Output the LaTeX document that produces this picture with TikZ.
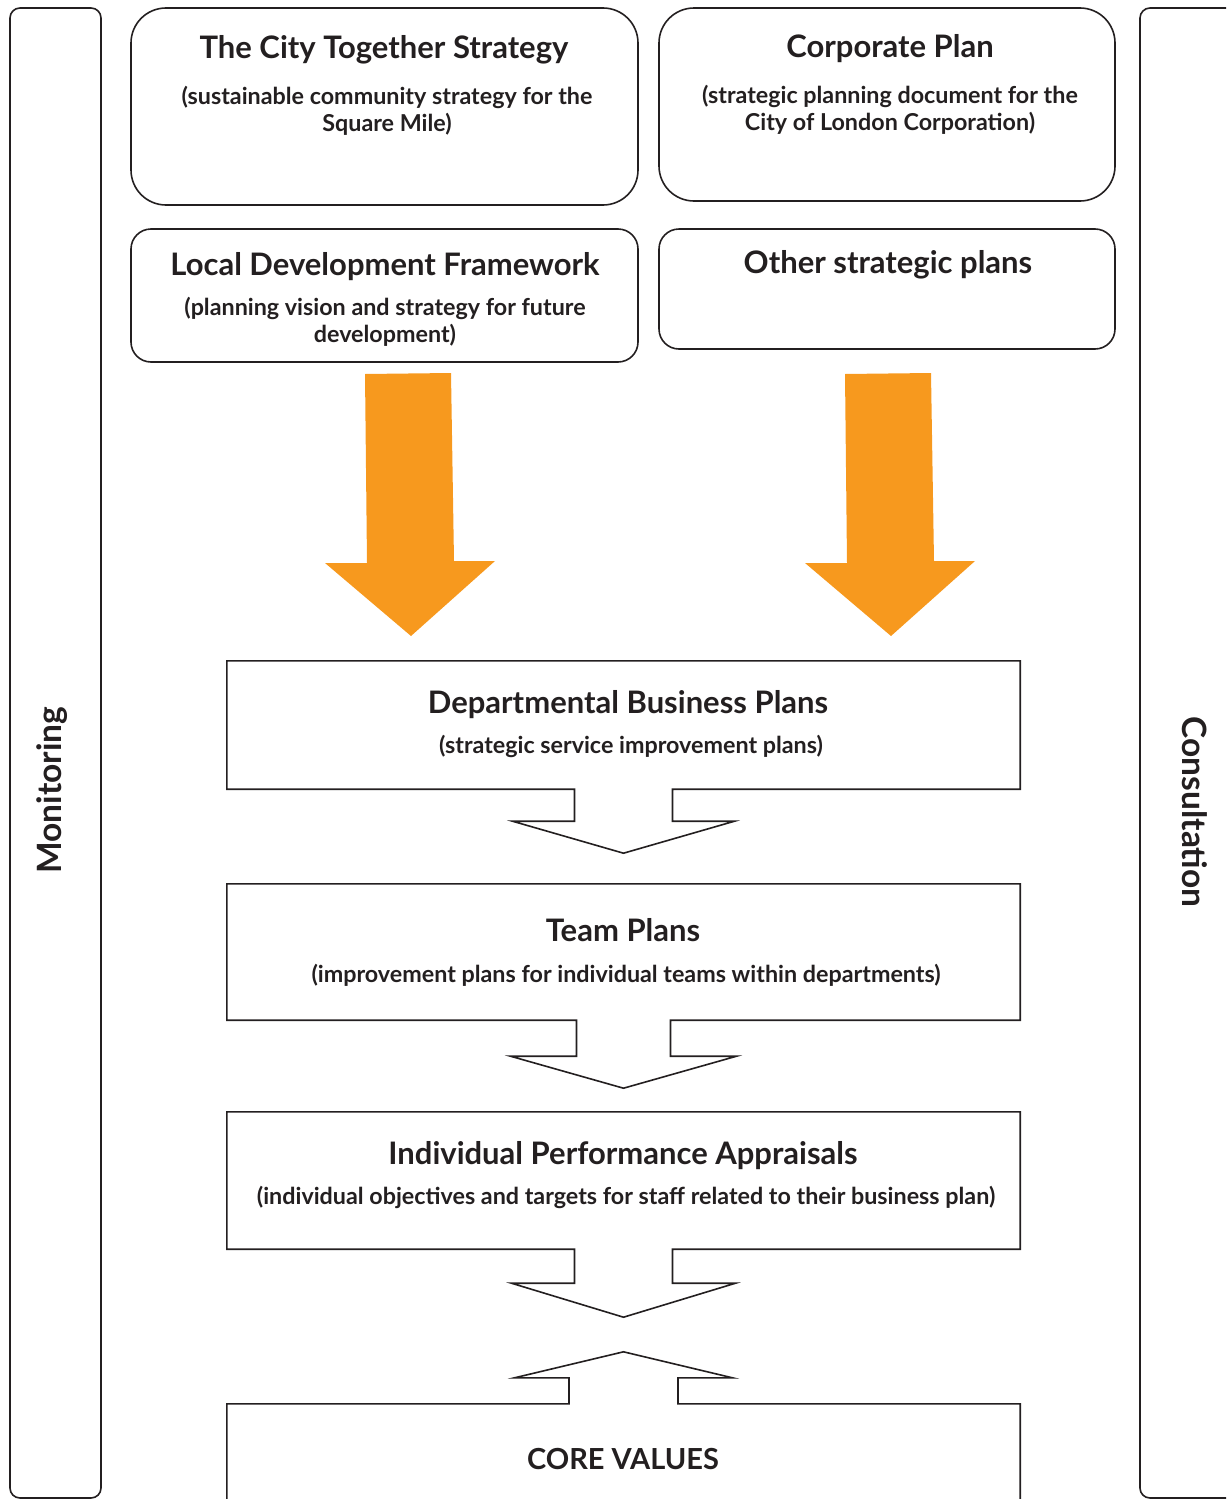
\documentclass[tikz,border=0pt]{standalone}
\usepackage{fontspec}
\setmainfont{Lato}
\usetikzlibrary{calc}
\definecolor{orangeA}{RGB}{247,153,30}
\definecolor{ink}{RGB}{35,31,32}
\begin{document}
\begin{tikzpicture}[x=1pt,y=-1pt,
  outline/.style={draw=ink, line width=1.6pt, line join=miter},
  rbox/.style={draw=ink, line width=1.6pt, rounded corners=#1, fill=none, inner sep=0pt},
  plainbox/.style={inner sep=0pt},
  ttl/.style={font=\fontsize{31}{34}\selectfont\bfseries, text=ink, inner sep=0pt, anchor=base},
  sub/.style={font=\fontsize{23.3}{26.5}\selectfont\bfseries, text=ink, inner sep=0pt, anchor=base, align=center},
  side/.style={font=\fontsize{33.5}{36}\selectfont\bfseries, text=ink, inner sep=0pt}
]
\useasboundingbox (0,0) rectangle (1226,1499);
\clip (0,0) rectangle (1226,1499);

% side panels
\node[rbox=10pt, minimum width=91pt, minimum height=1490pt] (mon) at (55.5,753) {};
\node[rbox=10pt, minimum width=96pt, minimum height=1490pt] (con) at (1188,753) {};
\node[side, rotate=90] (montxt) at (52,790) {Monitoring};
\node[side, rotate=-90] (contxt) at (1195,812) {Consultation};

% top rounded boxes
\node[rbox=35pt, minimum width=507pt, minimum height=197pt] (cts) at (384.5,106.5) {};
\node[rbox=35pt, minimum width=456pt, minimum height=193pt] (cp) at (887,104.5) {};
\node[rbox=20pt, minimum width=507pt, minimum height=133pt] (ldf) at (384.5,295.5) {};
\node[rbox=20pt, minimum width=456pt, minimum height=120pt] (osp) at (887,289) {};

\node[ttl] (ctsT) at (384,58) {The City Together Strategy};
\node[sub] (ctsS) at (387,131) {(sustainable community strategy for the\\Square Mile)};
\node[ttl] (cpT) at (890,57) {Corporate Plan};
\node[sub] (cpS) at (890,130) {(strategic planning document for the\\City of London Corporation)};
\node[ttl] (ldfT) at (385,275) {Local Development Framework};
\node[sub] (ldfS) at (385,342) {(planning vision and strategy for future\\development)};
\node[ttl] (ospT) at (888,273) {Other strategic plans};

% orange arrows
\coordinate (la1) at (365,374);
\fill[orangeA] (la1) -- (451,373) -- (454,561) -- (495,561) -- (411,636) -- (325,563) -- (367,563) -- cycle;
\coordinate (ra1) at (845,374);
\fill[orangeA] (ra1) -- (931,373) -- (934,561) -- (975,561) -- (891,636) -- (805,563) -- (847,563) -- cycle;

% rectangular boxes (outlines drawn together with the block arrows)
\node[plainbox, minimum width=793pt, minimum height=128pt] (dbp) at (623.5,725) {};
\node[plainbox, minimum width=793pt, minimum height=136pt] (team) at (623.5,952) {};
\node[plainbox, minimum width=793pt, minimum height=137pt] (ipa) at (623.5,1180.5) {};
\node[plainbox, minimum width=793pt, minimum height=112pt] (core) at (623.5,1460) {};

\node[ttl] (dbpT) at (628,713) {Departmental Business Plans};
\node[sub] (dbpS) at (631,753) {(strategic service improvement plans)};
\node[ttl] (teamT) at (623,941) {Team Plans};
\node[sub] (teamS) at (626,982) {(improvement plans for individual teams within departments)};
\node[ttl] (ipaT) at (623,1164) {Individual Performance Appraisals};
\node[sub] (ipaS) at (626,1204) {(individual objectives and targets for staff related to their business plan)};
\node[ttl, font=\fontsize{29}{32}\selectfont\bfseries] (coreT) at (623,1469) {CORE VALUES};

% DBP outline + arrow to Team Plans
\draw[outline] ($(dbp.south)+(-49,0)$) -- (dbp.south west) -- (dbp.north west) -- (dbp.north east) -- (dbp.south east)
  -- ($(dbp.south)+(49,0)$) -- ++(0,32) -- ($(dbp.south)+(111,32)$) -- ($(dbp.south)+(0,64)$)
  -- ($(dbp.south)+(-111,32)$) -- ($(dbp.south)+(-49,32)$) -- cycle;
% Team outline + arrow to IPA
\draw[outline] ($(team.south)+(-47,0)$) -- (team.south west) -- (team.north west) -- (team.north east) -- (team.south east)
  -- ($(team.south)+(47,0)$) -- ++(0,36) -- ($(team.south)+(113,36)$) -- ($(team.south)+(0,68)$)
  -- ($(team.south)+(-113,36)$) -- ($(team.south)+(-47,36)$) -- cycle;
% IPA outline + arrow down
\draw[outline] ($(ipa.south)+(-49,0)$) -- (ipa.south west) -- (ipa.north west) -- (ipa.north east) -- (ipa.south east)
  -- ($(ipa.south)+(49,0)$) -- ++(0,34) -- ($(ipa.south)+(112,34)$) -- ($(ipa.south)+(0,68)$)
  -- ($(ipa.south)+(-112,34)$) -- ($(ipa.south)+(-49,34)$) -- cycle;
% Core values outline + arrow up
\draw[outline] (core.south west) -- (core.north west) -- ($(core.north)+(-54.5,0)$) -- ++(0,-26)
  -- ($(core.north)+(-109,-26)$) -- ($(core.north)+(0,-52)$) -- ($(core.north)+(109,-26)$)
  -- ($(core.north)+(54.5,-26)$) -- ($(core.north)+(54.5,0)$) -- (core.north east) -- (core.south east);
\end{tikzpicture}
\end{document}
